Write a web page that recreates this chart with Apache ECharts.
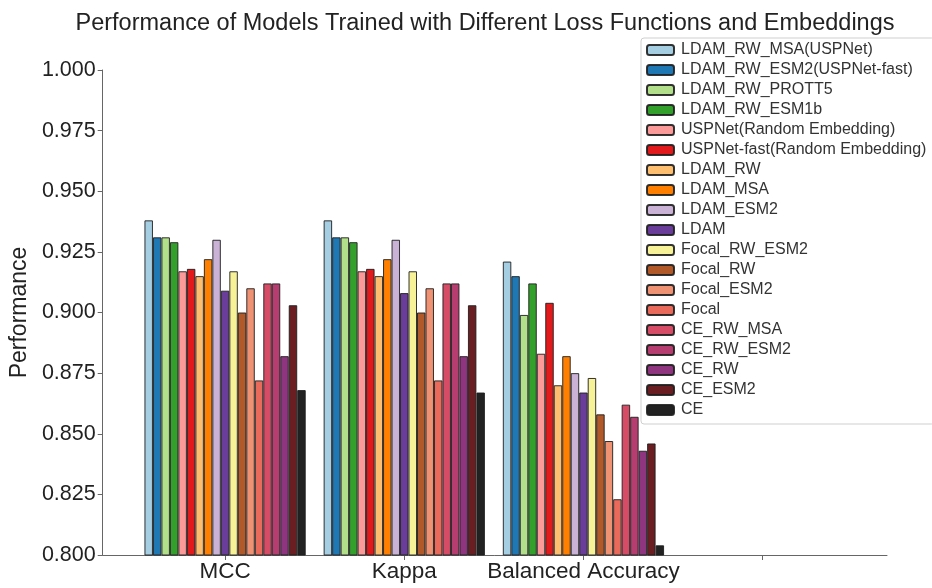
<!DOCTYPE html>
<html>
<head>
<meta charset="utf-8">
<script src="https://cdn.jsdelivr.net/npm/echarts@6/dist/echarts.min.js"></script>
<style>
  html, body { margin: 0; padding: 0; background: #fff; }
  #chart { width: 932px; height: 588px; }
</style>
</head>
<body>
<div id="chart"></div>
<script>
// Evaluation metrics shown along the x axis
const metrics = ['MCC', 'Kappa', 'Balanced Accuracy'];

// Model variants (one bar per model in each metric group)
const modelNames = [
  'LDAM_RW_MSA(USPNet)', 'LDAM_RW_ESM2(USPNet-fast)', 'LDAM_RW_PROTT5', 'LDAM_RW_ESM1b',
  'USPNet(Random Embedding)', 'USPNet-fast(Random Embedding)', 'LDAM_RW', 'LDAM_MSA',
  'LDAM_ESM2', 'LDAM', 'Focal_RW_ESM2', 'Focal_RW', 'Focal_ESM2', 'Focal',
  'CE_RW_MSA', 'CE_RW_ESM2', 'CE_RW', 'CE_ESM2', 'CE'
];

const modelColors = [
  '#a6cee3', '#1f78b4', '#b2df8a', '#33a02c',
  '#fb9a99', '#e31a1c', '#fdbf6f', '#ff7f00',
  '#cab2d6', '#6a3d9a', '#f7f197', '#b15928', '#ef9273', '#e9695a',
  '#d64c67', '#b63d70', '#8f3580', '#6b1e22', '#222222'
];

// Scores per metric, in the same order as modelNames
const mccValues = [
  0.938, 0.931, 0.931, 0.929, 0.917, 0.918, 0.915, 0.922, 0.930, 0.909,
  0.917, 0.900, 0.910, 0.872, 0.912, 0.912, 0.882, 0.903, 0.868
];
const kappaValues = [
  0.938, 0.931, 0.931, 0.929, 0.917, 0.918, 0.915, 0.922, 0.930, 0.908,
  0.917, 0.900, 0.910, 0.872, 0.912, 0.912, 0.882, 0.903, 0.867
];
const balancedAccValues = [
  0.921, 0.915, 0.899, 0.912, 0.883, 0.904, 0.870, 0.882, 0.875, 0.867,
  0.873, 0.858, 0.847, 0.823, 0.862, 0.857, 0.843, 0.846, 0.804
];

// Y axis ticks
const yMin = 0.800, yMax = 1.000, yStep = 0.025;

const metricValues = [mccValues, kappaValues, balancedAccValues];

const series = modelNames.map((name, i) => ({
  name: name,
  type: 'bar',
  barGap: '0%',
  barCategoryGap: '10%',
  itemStyle: {
    color: modelColors[i],
    borderColor: 'rgba(30,30,30,0.9)',
    borderWidth: 1
  },
  data: metricValues.map((vals, m) => [m, vals[i]])
}));

const chart = echarts.init(document.getElementById('chart'), null, { renderer: 'canvas' });
chart.setOption({
  backgroundColor: '#ffffff',
  animation: false,
  textStyle: { fontFamily: 'Liberation Sans, Arial, sans-serif' },
  title: {
    text: 'Performance of Models Trained with Different Loss Functions and Embeddings',
    left: 480,
    textAlign: 'center',
    top: 7,
    textStyle: { fontSize: 23.5, fontWeight: 'normal', color: '#222' }
  },
  grid: { left: 99, right: 45, top: 70, bottom: 33, containLabel: false },
  legend: {
    orient: 'vertical',
    left: 641,
    top: 38,
    padding: [4, 8, 6, 5],
    itemWidth: 27,
    itemHeight: 10,
    itemGap: 4,
    backgroundColor: 'rgba(255,255,255,0.85)',
    borderColor: '#cfcfcf',
    borderWidth: 1,
    borderRadius: 3,
    textStyle: { fontSize: 16, color: '#333', lineHeight: 15, padding: [0, 0, 0, 2] },
    data: modelNames
  },
  xAxis: {
    type: 'value',
    min: -0.683,
    max: 3.694,
    axisLine: { show: true, onZero: false, lineStyle: { color: '#666', width: 1 } },
    axisTick: { show: true, customValues: [0, 1, 2, 3], length: 5, lineStyle: { color: '#666' } },
    axisLabel: {
      customValues: [0, 1, 2],
      formatter: v => metrics[Math.round(v)] || '',
      fontSize: 22.5,
      color: '#222',
      margin: 5
    },
    splitLine: { show: false }
  },
  yAxis: {
    type: 'value',
    min: yMin,
    max: yMax,
    interval: yStep,
    name: 'Performance',
    nameLocation: 'middle',
    nameRotate: 90,
    nameGap: 66,
    nameTextStyle: { fontSize: 23, color: '#222' },
    axisLine: { show: true, onZero: false, lineStyle: { color: '#666', width: 1 } },
    axisTick: { show: true, length: 5, lineStyle: { color: '#666' } },
    axisLabel: { formatter: v => v.toFixed(3), fontSize: 21.5, color: '#222', margin: 7 },
    splitLine: { show: false }
  },
  series: series
});
</script>
</body>
</html>
